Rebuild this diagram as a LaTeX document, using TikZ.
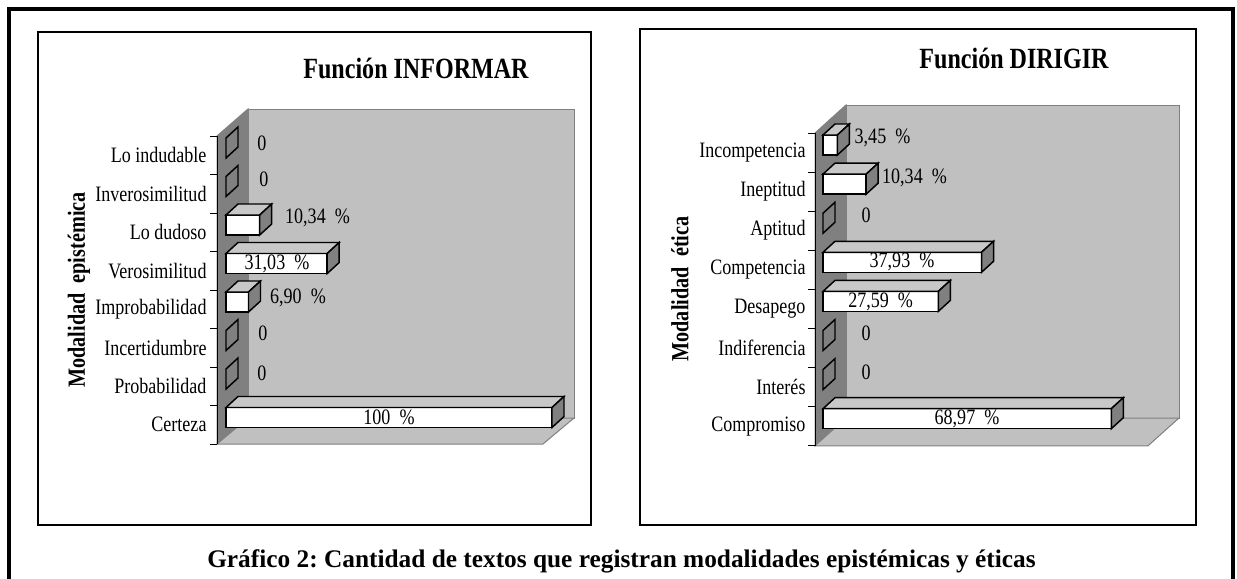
\documentclass[tikz,border=0pt]{standalone}
\usepackage{fontspec}
\setmainfont{Liberation Serif}
\newfontfamily\chartfont[FakeStretch=0.82]{Liberation Serif}
\frenchspacing

\tikzset{every picture/.style={line width=0.75pt}}
\tikzset{
  backwall/.style={draw={rgb, 255:red, 128; green, 128; blue, 128 }, fill={rgb, 255:red, 192; green, 192; blue, 192 }},
  sidewall/.style={draw={rgb, 255:red, 128; green, 128; blue, 128 }, fill={rgb, 255:red, 128; green, 128; blue, 128 }},
  barfront/.style={draw=black, line width=1.1pt, fill=white},
  bartop/.style={draw=black, line width=1.1pt, fill={rgb, 255:red, 200; green, 200; blue, 200 }},
  barside/.style={draw=black, line width=1.1pt, fill={rgb, 255:red, 128; green, 128; blue, 128 }},
  catlabel/.style={anchor=east, inner sep=0.75pt, font=\chartfont\fontsize{16.5}{19}\selectfont},
  vallabel/.style={inner sep=0.75pt, font=\chartfont\fontsize{16.5}{19}\selectfont},
  charttitle/.style={inner sep=0.75pt, font=\chartfont\bfseries\fontsize{22}{25}\selectfont},
  axistitle/.style={inner sep=0.75pt, rotate=90, font=\chartfont\bfseries\fontsize{18.5}{20}\selectfont},
}

\begin{document}
\begin{tikzpicture}[x=0.75pt,y=0.75pt,yscale=-1,xscale=1]
\useasboundingbox (0,0) rectangle (1237,578);

%Outer frame
\draw [line width=2.4pt] (9,590) -- (9,9) -- (1233,9) -- (1233,590) ;
%Shape: Rectangle (chart frames)
\draw [line width=1.1pt] (38,32) rectangle (591,525) ;
\draw [line width=1.1pt] (640,29) rectangle (1196,525) ;

%%%%% Función INFORMAR
%Shape: Walls
\draw [backwall] (248,109) rectangle (574,418) ;
\draw [sidewall] (217,136) -- (248,109) -- (248,418) -- (217,444) -- cycle ;
\draw [backwall] (217,444) -- (248,418) -- (574,418) -- (543,444) -- cycle ;
%Straight Lines (axis and ticks)
\draw (217,136) -- (217,444) ;
\draw (210,136) -- (217,136) (210,174.5) -- (217,174.5) (210,213) -- (217,213) (210,251.5) -- (217,251.5) (210,290) -- (217,290) (210,328.5) -- (217,328.5) (210,367) -- (217,367) (210,405.5) -- (217,405.5) (210,444) -- (217,444) ;

%Shape: Bars
\draw [barside] (226,138) -- (226,158) -- (238,147) -- (238,127) -- cycle ;
\draw [barside] (226,176.5) -- (226,196.5) -- (238,185.5) -- (238,165.5) -- cycle ;
\draw [barfront] (226,215) rectangle (259.7,235) ;
\draw [bartop] (226,215) -- (238,204) -- (271.7,204) -- (259.7,215) -- cycle ;
\draw [barside] (259.7,215) -- (271.7,204) -- (271.7,224) -- (259.7,235) -- cycle ;
\draw [barfront] (226,253.5) rectangle (327.2,273.5) ;
\draw [bartop] (226,253.5) -- (238,242.5) -- (339.2,242.5) -- (327.2,253.5) -- cycle ;
\draw [barside] (327.2,253.5) -- (339.2,242.5) -- (339.2,262.5) -- (327.2,273.5) -- cycle ;
\draw [barfront] (226,292) rectangle (248.5,312) ;
\draw [bartop] (226,292) -- (238,281) -- (260.5,281) -- (248.5,292) -- cycle ;
\draw [barside] (248.5,292) -- (260.5,281) -- (260.5,301) -- (248.5,312) -- cycle ;
\draw [barside] (226,330.5) -- (226,350.5) -- (238,339.5) -- (238,319.5) -- cycle ;
\draw [barside] (226,369) -- (226,389) -- (238,378) -- (238,358) -- cycle ;
\draw [barfront] (226,407.5) rectangle (552,427.5) ;
\draw [bartop] (226,407.5) -- (238,396.5) -- (564,396.5) -- (552,407.5) -- cycle ;
\draw [barside] (552,407.5) -- (564,396.5) -- (564,416.5) -- (552,427.5) -- cycle ;

% Text Node
\draw (416,68) node [charttitle] (titleInformar) {Función INFORMAR};
% Text Node
\draw (79,290) node [axistitle] (axisEpistemica) {Modalidad~~epistémica};
% Text Node
\draw (208,155.3) node [catlabel] (cIndudable) {Lo indudable};
\draw (208,193.8) node [catlabel] (cInverosimilitud) {Inverosimilitud};
\draw (208,232.3) node [catlabel] (cDudoso) {Lo dudoso};
\draw (208,270.8) node [catlabel] (cVerosimilitud) {Verosimilitud};
\draw (208,309.3) node [catlabel] (cImprobabilidad) {Improbabilidad};
\draw (208,347.8) node [catlabel] (cIncertidumbre) {Incertidumbre};
\draw (208,386.3) node [catlabel] (cProbabilidad) {Probabilidad};
\draw (208,424.8) node [catlabel] (cCerteza) {Certeza};
% Text Node
\draw (262,143) node [vallabel] (vIndudable) {0};
\draw (264,179) node [vallabel] (vInverosimilitud) {0};
\draw (317.5,218) node [vallabel] (vDudoso) {10,34~~\%};
\draw (277,263.5) node [vallabel] (vVerosimilitud) {31,03~~\%};
\draw (298,298) node [vallabel] (vImprobabilidad) {6,90~~\%};
\draw (263,333) node [vallabel] (vIncertidumbre) {0};
\draw (262,373) node [vallabel] (vProbabilidad) {0};
\draw (389,417.5) node [vallabel] (vCerteza) {100~~\%};

%%%%% Función DIRIGIR
%Shape: Walls
\draw [backwall] (846,105) rectangle (1179,418) ;
\draw [sidewall] (815,133) -- (846,105) -- (846,418) -- (815,445.8) -- cycle ;
\draw [backwall] (815,445.8) -- (846,418) -- (1179,418) -- (1148,445.8) -- cycle ;
%Straight Lines (axis and ticks)
\draw (815,133) -- (815,445.8) ;
\draw (808,133) -- (815,133) (808,172.1) -- (815,172.1) (808,211.2) -- (815,211.2) (808,250.3) -- (815,250.3) (808,289.4) -- (815,289.4) (808,328.5) -- (815,328.5) (808,367.6) -- (815,367.6) (808,406.7) -- (815,406.7) (808,445.8) -- (815,445.8) ;

%Shape: Bars
\draw [barfront] (823,135) rectangle (837.4,155) ;
\draw [bartop] (823,135) -- (835,124) -- (849.4,124) -- (837.4,135) -- cycle ;
\draw [barside] (837.4,135) -- (849.4,124) -- (849.4,144) -- (837.4,155) -- cycle ;
\draw [barfront] (823,174.1) rectangle (866.2,194.1) ;
\draw [bartop] (823,174.1) -- (835,163.1) -- (878.2,163.1) -- (866.2,174.1) -- cycle ;
\draw [barside] (866.2,174.1) -- (878.2,163.1) -- (878.2,183.1) -- (866.2,194.1) -- cycle ;
\draw [barside] (823,213.2) -- (823,233.2) -- (835,222.2) -- (835,202.2) -- cycle ;
\draw [barfront] (823,252.3) rectangle (981.5,272.3) ;
\draw [bartop] (823,252.3) -- (835,241.3) -- (993.5,241.3) -- (981.5,252.3) -- cycle ;
\draw [barside] (981.5,252.3) -- (993.5,241.3) -- (993.5,261.3) -- (981.5,272.3) -- cycle ;
\draw [barfront] (823,291.4) rectangle (938.3,311.4) ;
\draw [bartop] (823,291.4) -- (835,280.4) -- (950.3,280.4) -- (938.3,291.4) -- cycle ;
\draw [barside] (938.3,291.4) -- (950.3,280.4) -- (950.3,300.4) -- (938.3,311.4) -- cycle ;
\draw [barside] (823,330.5) -- (823,350.5) -- (835,339.5) -- (835,319.5) -- cycle ;
\draw [barside] (823,369.6) -- (823,389.6) -- (835,378.6) -- (835,358.6) -- cycle ;
\draw [barfront] (823,408.7) rectangle (1111.3,428.7) ;
\draw [bartop] (823,408.7) -- (835,397.7) -- (1123.3,397.7) -- (1111.3,408.7) -- cycle ;
\draw [barside] (1111.3,408.7) -- (1123.3,397.7) -- (1123.3,417.7) -- (1111.3,428.7) -- cycle ;

% Text Node
\draw (1014,58) node [charttitle] (titleDirigir) {Función DIRIGIR};
% Text Node
\draw (680,289) node [axistitle] (axisEtica) {Modalidad~~ética};
% Text Node
\draw (807,152.5) node [catlabel] (cIncompetencia) {Incompetencia};
\draw (807,191.6) node [catlabel] (cIneptitud) {Ineptitud};
\draw (807,230.7) node [catlabel] (cAptitud) {Aptitud};
\draw (807,269.8) node [catlabel] (cCompetencia) {Competencia};
\draw (807,308.9) node [catlabel] (cDesapego) {Desapego};
\draw (807,348) node [catlabel] (cIndiferencia) {Indiferencia};
\draw (807,387.1) node [catlabel] (cInteres) {Interés};
\draw (807,426.2) node [catlabel] (cCompromiso) {Compromiso};
% Text Node
\draw (882.5,137.5) node [vallabel] (vIncompetencia) {3,45~~\%};
\draw (914.5,178) node [vallabel] (vIneptitud) {10,34~~\%};
\draw (866,215) node [vallabel] (vAptitud) {0};
\draw (902,262.3) node [vallabel] (vCompetencia) {37,93~~\%};
\draw (880.6,301.4) node [vallabel] (vDesapego) {27,59~~\%};
\draw (866,333) node [vallabel] (vIndiferencia) {0};
\draw (866,372) node [vallabel] (vInteres) {0};
\draw (967,418.7) node [vallabel] (vCompromiso) {68,97~~\%};

% Text Node
\draw (621.5,561) node [inner sep=0.75pt, font=\bfseries\fontsize{19}{22}\selectfont] (caption) {Gráfico 2: Cantidad de textos que registran modalidades epistémicas y éticas};

\end{tikzpicture}
\end{document}
